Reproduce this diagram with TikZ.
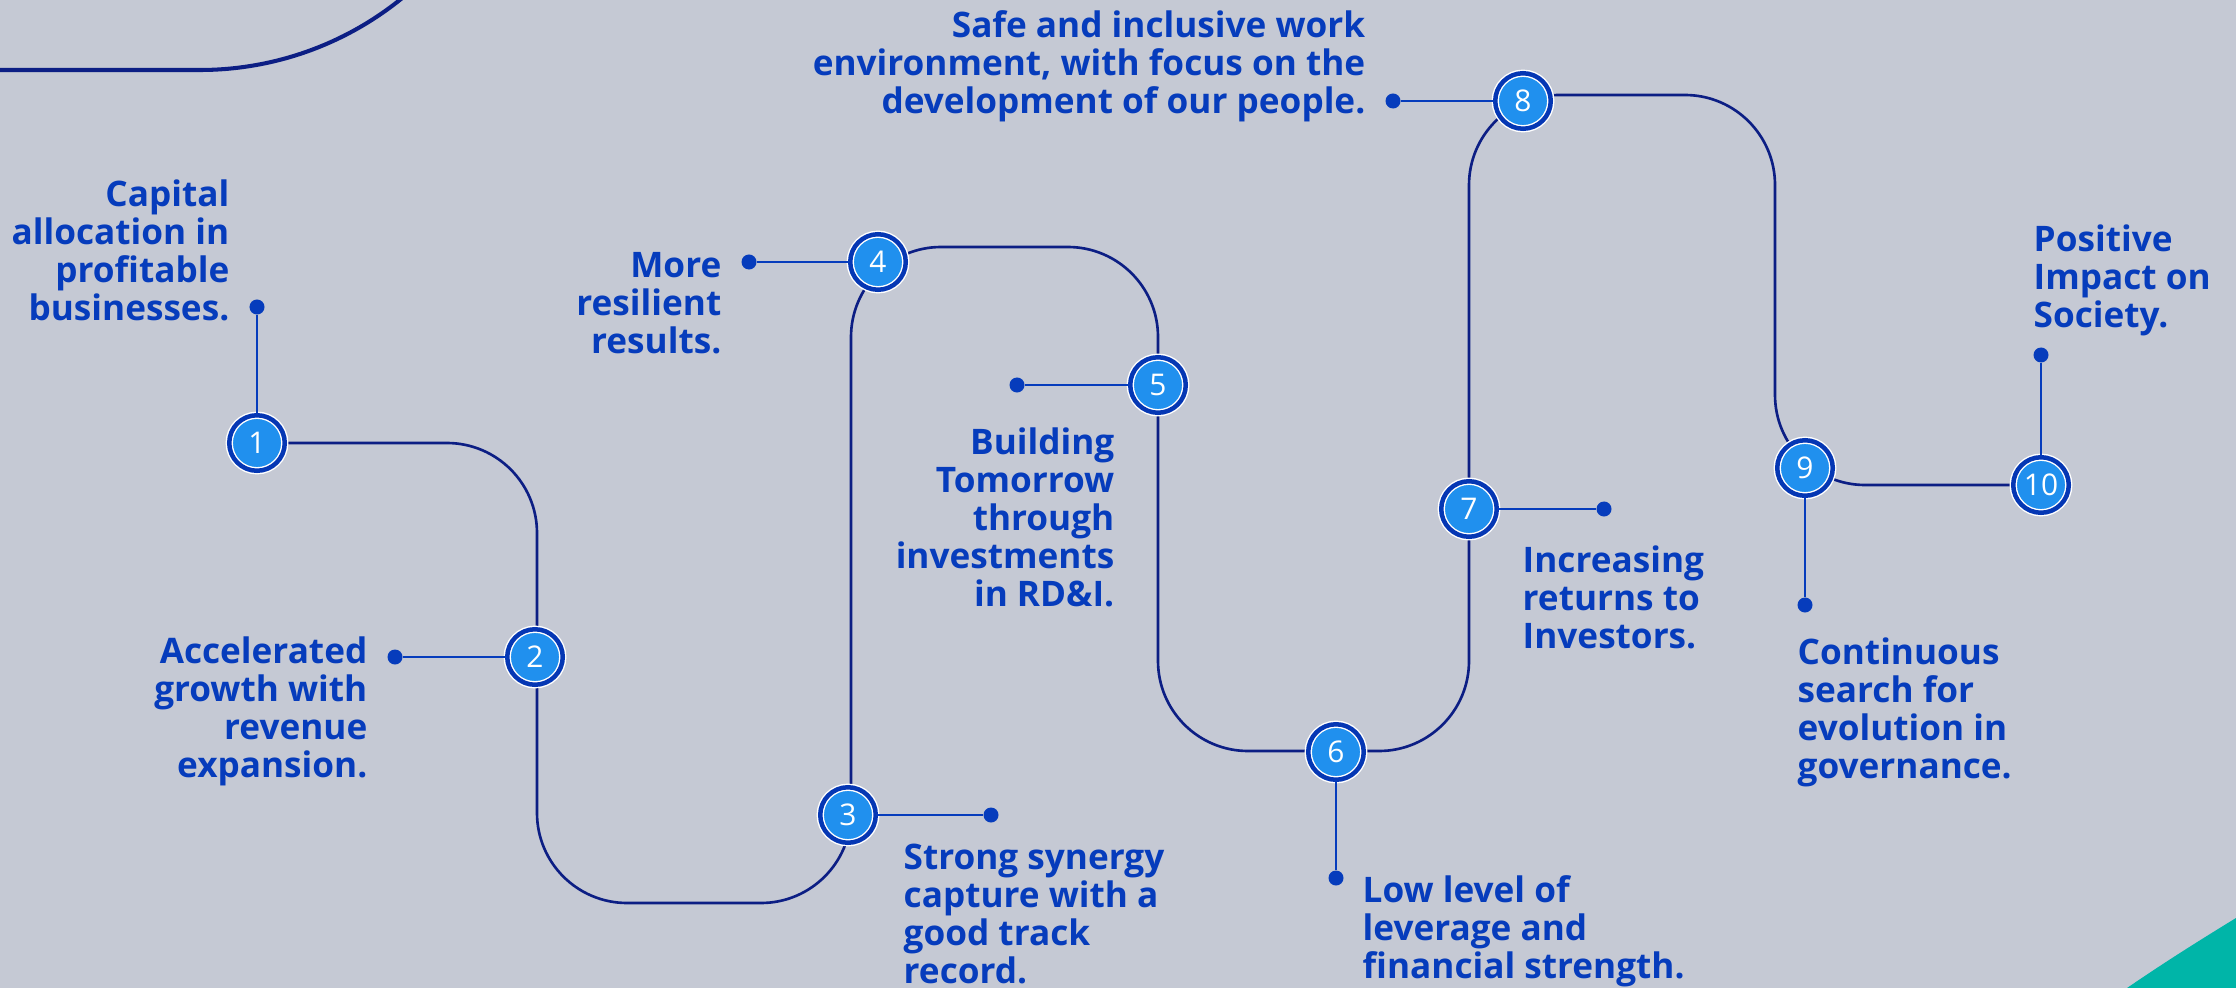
\documentclass[tikz,border=0pt]{standalone}
\usepackage{fontspec}
\setmainfont{Open Sans}
\usetikzlibrary{backgrounds}
\definecolor{bgcol}{RGB}{197,201,212}
\definecolor{trackblue}{RGB}{12,30,132}
\definecolor{textblue}{RGB}{6,60,188}
\definecolor{ringblue}{RGB}{5,55,180}
\definecolor{stepfill}{RGB}{32,144,238}
\definecolor{tealcol}{RGB}{0,181,168}

\begin{document}
\begin{tikzpicture}[x=0.01cm, y=-0.01cm,
  track/.style={draw=trackblue, line width=0.75pt, rounded corners=0.9cm},
  leader/.style={draw=textblue, line width=0.55pt},
  dot/.style={circle, fill=textblue, inner sep=0pt, minimum size=0.15cm},
  stepnode/.style={circle, inner sep=0pt, minimum size=0.555cm, fill=stepfill,
    draw=white, line width=0.4pt, double=ringblue, double distance=0.045cm,
    text=white, font=\fontsize{8.5}{9}\selectfont},
  lbl/.style={inner sep=0pt, text=textblue, font=\fontsize{10}{10.8}\selectfont\bfseries}]
\useasboundingbox (0,0) rectangle (2236,988);

% decorations in the corners
\draw[trackblue, line width=1.15pt] (0,70) -- (200,70) arc[start angle=90, end angle=45, radius=320];
\fill[tealcol] (2127,988) .. controls (2165,962) and (2200,940) .. (2236,918) -- (2236,988) -- cycle;

% steps
\foreach \i/\x/\y in {1/257/443, 2/535/657, 3/848/815, 4/878/262, 5/1158/385,
  6/1336/752, 7/1469/509, 8/1523/101, 9/1805/468, 10/2041/485}
  \node[stepnode] (n\i) at (\x,\y) {\i};

% dots and leaders
\foreach \i/\x/\y in {1/257/307, 2/395/657, 3/991/815, 4/749/262, 5/1017/385,
  6/1336/878, 7/1604/509, 8/1393/101, 9/1805/605, 10/2041/355}
  \node[dot] (d\i) at (\x,\y) {};
\foreach \i in {1,...,10}
  \draw[leader] (n\i) -- (d\i);

% texts
\node[lbl, anchor=north east, align=right] (t1) at (230,179) {Capital\\allocation in\\profitable\\businesses.};
\node[lbl, anchor=north east, align=right] (t2) at (368,636) {Accelerated\\growth with\\revenue\\expansion.};
\node[lbl, anchor=north west, align=left] (t3) at (903,843) {Strong synergy\\capture with a\\good track\\record.};
\node[lbl, anchor=north east, align=right] (t4) at (722,252) {More\\resilient\\results.};
\node[lbl, anchor=north east, align=right] (t5) at (1115,427) {Building\\Tomorrow\\through\\investments\\in RD\&I.};
\node[lbl, anchor=north west, align=left] (t6) at (1362,875) {Low level of\\leverage and\\financial strength.};
\node[lbl, anchor=north west, align=left] (t7) at (1522,545) {Increasing\\returns to\\Investors.};
\node[lbl, anchor=north east, align=right] (t8) at (1366,10) {Safe and inclusive work\\environment, with focus on the\\development of our people.};
\node[lbl, anchor=north west, align=left] (t9) at (1797,637) {Continuous\\search for\\evolution in\\governance.};
\node[lbl, anchor=north west, align=left] (t10) at (2033,224) {Positive\\Impact on\\Society.};

% track corners
\foreach \i/\x/\y in {1/537/443, 2/537/903, 3/851/903, 4/851/247, 5/1158/247,
  6/1158/751, 7/1469/751, 8/1469/95, 9/1775/95, 10/1775/485}
  \coordinate (k\i) at (\x,\y);

\begin{pgfonlayer}{background}
\fill[bgcol] (0,0) rectangle (2236,988);
\draw[track] (n1.center) -- (k1) -- (k2) -- (k3) -- (k4) -- (k5) -- (k6)
  -- (k7) -- (k8) -- (k9) -- (k10) -- (n10.center);
\end{pgfonlayer}
\end{tikzpicture}
\end{document}
